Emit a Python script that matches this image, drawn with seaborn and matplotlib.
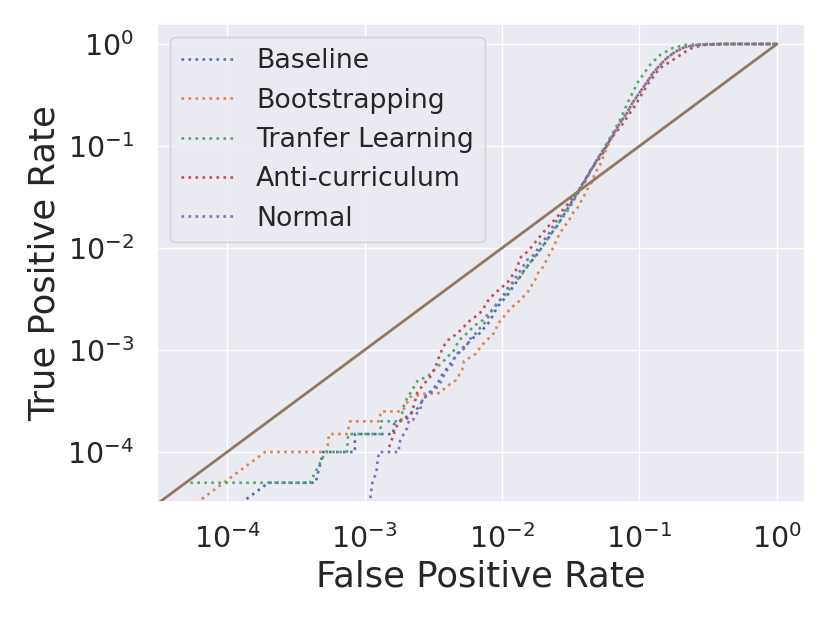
import matplotlib
matplotlib.use("Agg")
import pandas as pd
import matplotlib.pyplot as plt
import seaborn as sns

# ROC points (false positive rate, true positive rate)
baseline_fpr = [0, 2.0e-4, 4.4e-4, 5.0e-4, 8.5e-4, 8.5e-4, 1.61e-3, 1.64e-3, 1.97e-3, 2.22e-3,
                2.45e-3, 2.66e-3, 2.89e-3, 3.15e-3, 3.42e-3, 3.66e-3, 4.05e-3, 4.40e-3, 4.78e-3,
                5.2e-3, 5.66e-3, 6.15e-3, 6.92e-3, 7.52e-3, 8.18e-3, 8.75e-3, 9.35e-3, 1.02e-2,
                1.11e-2, 1.2e-2, 1.31e-2, 1.42e-2, 1.55e-2, 1.74e-2, 1.89e-2, 2.09e-2, 2.27e-2,
                2.51e-2, 2.78e-2, 3.02e-2, 3.28e-2, 3.57e-2, 3.88e-2, 4.22e-2, 4.59e-2, 0.0499, 0.058]
baseline_tpr = [0, 5e-5, 5e-5, 1e-4, 1e-4, 1.5e-4, 1.5e-4, 1.88e-4, 2.15e-4, 2.47e-4,
                2.7e-4, 3.24e-4, 3.71e-4, 4.15e-4, 4.74e-4, 5.69e-4, 6.81e-4, 7.98e-4, 9.14e-4,
                1.05e-3, 1.17e-3, 1.31e-3, 1.47e-3, 1.68e-3, 1.92e-3, 2.31e-3, 2.7e-3, 3.09e-3,
                3.54e-3, 4.15e-3, 4.86e-3, 5.82e-3, 6.81e-3, 8.16e-3, 9.55e-3, 1.15e-2, 1.37e-2,
                1.64e-2, 2.06e-2, 2.47e-2, 2.96e-2, 3.54e-2, 4.34e-2, 5.2e-2, 6.22e-2, 0.0762, 0.102]

boot_fpr = [0, 1.89e-4, 5.33e-4, 5.52e-4, 7.46e-4, 7.85e-4, 1.27e-3, 1.32e-3, 1.87e-3, 1.97e-3,
            2.14e-3, 2.66e-3, 3.54e-3, 3.85e-3, 4.19e-3, 4.63e-3, 5.12e-3, 5.29e-3, 5.75e-3,
            6.58e-3, 6.92e-3, 7.52e-3, 8.18e-3, 8.89e-3, 9.35e-3, 1.0e-2, 1.05e-2, 1.18e-2,
            1.29e-2, 1.40e-2, 1.52e-2, 1.65e-2, 1.74e-2, 1.83e-2, 1.99e-2, 2.16e-2, 2.35e-2,
            2.55e-2, 2.78e-2, 3.02e-2, 3.28e-2, 3.57e-2, 3.88e-2, 4.15e-2, 4.51e-2, 4.75e-2,
            5.16e-2, 5.7e-2]
boot_tpr = [0, 1e-4, 1e-4, 1.5e-4, 1.5e-4, 2e-4, 2e-4, 2.5e-4, 2.5e-4, 2.76e-4,
            3.46e-4, 3.71e-4, 3.79e-4, 4.24e-4, 4.64e-4, 5.08e-4, 6.37e-4, 7.8e-4, 8.35e-4,
            9.35e-4, 1.07e-3, 1.2e-3, 1.34e-3, 1.5e-3, 1.84e-3, 1.97e-3, 2.2e-3, 2.64e-3,
            2.89e-3, 3.24e-3, 3.62e-3, 4.34e-3, 4.86e-3, 5.69e-3, 6.52e-3, 8.16e-3, 1.0e-2,
            1.28e-2, 1.57e-2, 1.8e-2, 2.2e-2, 2.52e-2, 3.09e-2, 3.7e-2, 4.44e-2, 5.43e-2,
            6.51e-2, 9.14e-2]

transfer_fpr = [5.4e-5, 4.0e-4, 4.55e-4, 4.87e-4, 5.2e-4, 7.46e-4, 7.59e-4, 1.30e-3, 1.32e-3,
                1.84e-3, 1.90e-3, 2.04e-3, 2.22e-3, 2.45e-3, 2.85e-3, 3.10e-3, 3.37e-3, 3.66e-3,
                3.98e-3, 4.40e-3, 4.87e-3, 5.38e-3, 6.05e-3, 6.69e-3, 7.27e-3, 7.78e-3, 8.46e-3,
                9.2e-3, 1.0e-2, 1.09e-2, 1.2e-2, 1.29e-2, 1.38e-2, 1.47e-2, 1.55e-2, 1.95e-2,
                2.43e-2, 3.02e-2, 3.69e-2, 4.36e-2, 5.16e-2, 6.1e-2, 7.22e-2, 0.0825, 0.0975,
                0.119, 0.141, 0.175, 0.214, 0.326, 1.0]
transfer_tpr = [5e-5, 5e-5, 6.97e-5, 8.35e-5, 1e-4, 1e-4, 1.5e-4, 1.5e-4, 2e-4,
                2e-4, 2.7e-4, 3.38e-4, 4.06e-4, 5.08e-4, 5.43e-4, 6.09e-4, 6.81e-4, 7.46e-4,
                8.54e-4, 9.55e-4, 1.25e-3, 1.40e-3, 1.64e-3, 1.84e-3, 1.97e-3, 2.2e-3, 2.47e-3,
                2.89e-3, 3.24e-3, 3.62e-3, 4.54e-3, 4.86e-3, 5.44e-3, 6.09e-3, 6.81e-3, 1.02e-2,
                1.57e-2, 2.36e-2, 3.7e-2, 5.56e-2, 8.16e-2, 0.12, 0.18, 0.27, 0.424,
                0.622, 0.78, 0.914, 0.978, 1.0, 1.0]

anti_fpr = [1.51e-3, 1.64e-3, 1.76e-3, 2.14e-3, 2.29e-3, 2.41e-3, 2.66e-3, 2.99e-3, 3.26e-3,
            3.48e-3, 3.72e-3, 4.05e-3, 4.55e-3, 5.12e-3, 5.66e-3, 6.37e-3, 7.16e-3, 7.78e-3,
            8.75e-3, 9.84e-3, 1.09e-2, 1.18e-2, 1.29e-2, 1.35e-2, 1.55e-2, 1.80e-2, 2.12e-2,
            2.51e-2, 2.97e-2, 3.51e-2, 4.02e-2, 4.51e-2, 5.34e-2, 6.1e-2, 0.0746, 0.0944,
            0.115, 0.141, 0.175, 0.214, 0.241, 0.29, 0.455, 1.0]
anti_tpr = [1.12e-4, 1.53e-4, 1.97e-4, 2.2e-4, 2.89e-4, 3.79e-4, 4.54e-4, 5.43e-4, 6.67e-4,
            8.54e-4, 1.07e-3, 1.25e-3, 1.40e-3, 1.61e-3, 1.88e-3, 2.11e-3, 2.41e-3, 2.96e-3,
            3.54e-3, 4.06e-3, 4.54e-3, 5.31e-3, 6.37e-3, 7.98e-3, 9.35e-3, 1.20e-2, 1.57e-2,
            2.01e-2, 2.64e-2, 3.46e-2, 4.65e-2, 6.09e-2, 8.16e-2, 0.115, 0.161, 0.258,
            0.405, 0.582, 0.697, 0.835, 0.914, 0.978, 1.0, 1.0]

normal_fpr = [1.08e-3, 1.107e-3, 1.14e-3, 1.22e-3, 1.24e-3, 1.27e-3, 1.78e-3, 1.78e-3, 1.94e-3,
              2.04e-3, 2.11e-3, 2.25e-3, 2.41e-3, 2.54e-3, 2.66e-3, 2.94e-3, 3.15e-3, 3.42e-3,
              3.72e-3, 3.85e-3, 4.33e-3, 4.55e-3, 5.12e-3, 5.56e-3, 5.66e-3, 6.15e-3, 6.69e-3,
              7.27e-3, 7.78e-3, 8.18e-3, 8.89e-3, 9.67e-3, 1.05e-2, 1.11e-2, 1.2e-2, 1.29e-2,
              1.40e-2, 1.52e-2, 1.65e-2, 1.80e-2, 1.89e-2, 2.12e-2, 2.31e-2, 2.51e-2, 2.73e-2,
              2.97e-2, 3.23e-2, 3.4e-2, 3.69e-2, 4.08e-2, 4.51e-2, 0.0499, 0.058]
normal_tpr = [2.58e-5, 3.79e-5, 5e-5, 6.37e-5, 7.8e-5, 1e-4, 1e-4, 1.22e-4, 1.53e-4,
              1.72e-4, 2.06e-4, 2.06e-4, 2.41e-4, 2.58e-4, 3.46e-4, 3.62e-4, 4.06e-4, 4.34e-4,
              5.31e-4, 6.09e-4, 7.13e-4, 8.93e-4, 1.0e-3, 1.07e-3, 1.25e-3, 1.34e-3, 1.57e-3,
              1.76e-3, 1.97e-3, 2.31e-3, 2.64e-3, 3.09e-3, 3.62e-3, 4.15e-3, 4.64e-3, 5.44e-3,
              6.37e-3, 7.62e-3, 8.16e-3, 9.55e-3, 1.12e-2, 1.28e-2, 1.57e-2, 1.88e-2, 2.11e-2,
              2.47e-2, 2.82e-2, 3.16e-2, 3.7e-2, 4.65e-2, 6.09e-2, 0.0762, 0.102]

# upper part where Baseline, Bootstrapping and Normal overlap
tail_fpr = [0.0641, 0.0722, 0.081, 0.0897, 0.1009, 0.1134, 0.1254, 0.141, 0.158, 0.181,
            0.214, 0.262, 0.38, 1.0]
tail_tpr = [0.128, 0.168, 0.211, 0.270, 0.338, 0.424, 0.520, 0.622, 0.729, 0.835,
            0.935, 0.978, 1.0, 1.0]

chance_fpr = [0, 1]
chance_tpr = [0, 1]

models = ["Baseline", "Bootstrapping", "Tranfer Learning", "Anti-curriculum", "Normal"]
curves = {
    "Baseline": (baseline_fpr + tail_fpr, baseline_tpr + tail_tpr),
    "Bootstrapping": (boot_fpr + tail_fpr, boot_tpr + tail_tpr),
    "Tranfer Learning": (transfer_fpr, transfer_tpr),
    "Anti-curriculum": (anti_fpr, anti_tpr),
    "Normal": (normal_fpr + tail_fpr, normal_tpr + tail_tpr),
}

sns.set_theme(style="darkgrid")
palette = sns.color_palette("deep")

fig = plt.figure(figsize=(8.3, 6.23), dpi=100)
ax = fig.add_axes([157 / 830, 1 - 502 / 623, 648 / 830, 478 / 623])

for i, name in enumerate(models):
    fpr, tpr = curves[name]
    df = pd.DataFrame({"fpr": fpr, "tpr": tpr})
    sns.lineplot(data=df, x="fpr", y="tpr", ax=ax, color=palette[i], linestyle=":",
                 linewidth=1.9, label=name, estimator=None, sort=False)

# diagonal reference line
ax.plot(chance_fpr, chance_tpr, color=palette[5], linewidth=2.0)

ax.set_xscale("log")
ax.set_yscale("log")
ax.set_xlim(10 ** -4.51, 10 ** 0.204)
ax.set_ylim(10 ** -4.49, 10 ** 0.196)

ax.set_xlabel("False Positive Rate", fontsize=25.5)
ax.set_ylabel("True Positive Rate", fontsize=25.5)
ax.tick_params(axis="x", labelsize=20.5, pad=10)
ax.tick_params(axis="y", labelsize=20.5, pad=10.5)
ax.tick_params(which="minor", length=0)

ax.legend(loc="upper left", fontsize=19.3)

fig.savefig("out.png", dpi=100)
